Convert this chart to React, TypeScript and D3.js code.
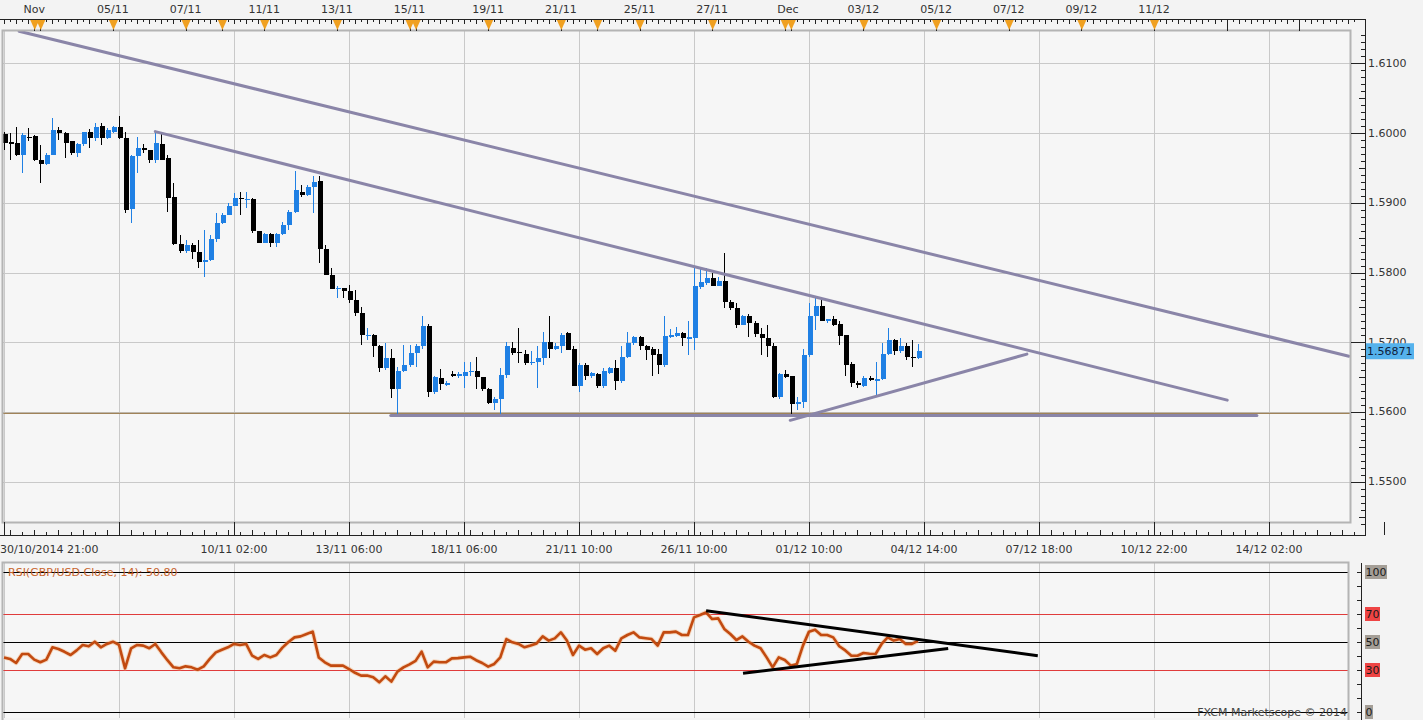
import React from 'react';
import * as d3 from 'd3';

// H4 candles, [open, high, low, close], one per bar from the left edge
const ohlc: [number, number, number, number][] = [
  [1.5998, 1.6001, 1.5976, 1.5986], [1.5987, 1.6000, 1.5962, 1.5986], [1.5986, 1.6009, 1.5967, 1.5969],
  [1.5969, 1.6000, 1.5942, 1.5997], [1.5995, 1.6007, 1.5988, 1.5994], [1.5996, 1.5997, 1.5960, 1.5961],
  [1.5962, 1.5983, 1.5928, 1.5956], [1.5956, 1.5971, 1.5954, 1.5969], [1.5969, 1.6021, 1.5968, 1.6005],
  [1.6005, 1.6009, 1.5990, 1.6000], [1.6000, 1.6001, 1.5964, 1.5986], [1.5988, 1.5989, 1.5969, 1.5972],
  [1.5972, 1.5985, 1.5966, 1.5984], [1.5984, 1.6002, 1.5981, 1.6001], [1.6001, 1.6006, 1.5978, 1.5993],
  [1.5993, 1.6014, 1.5988, 1.6009], [1.6010, 1.6014, 1.5983, 1.5993], [1.5993, 1.6007, 1.5991, 1.6004],
  [1.6002, 1.6010, 1.6000, 1.6008], [1.6008, 1.6024, 1.5991, 1.5993], [1.5993, 1.6002, 1.5886, 1.5890],
  [1.5891, 1.5969, 1.5871, 1.5967], [1.5967, 1.5995, 1.5943, 1.5979], [1.5979, 1.5984, 1.5972, 1.5975],
  [1.5976, 1.5976, 1.5957, 1.5962], [1.5962, 1.6002, 1.5957, 1.5985], [1.5984, 1.6000, 1.5961, 1.5962],
  [1.5964, 1.5969, 1.5887, 1.5907], [1.5908, 1.5928, 1.5840, 1.5841], [1.5841, 1.5854, 1.5828, 1.5831],
  [1.5831, 1.5847, 1.5828, 1.5839], [1.5839, 1.5842, 1.5820, 1.5829], [1.5829, 1.5847, 1.5806, 1.5815],
  [1.5815, 1.5861, 1.5793, 1.5818], [1.5818, 1.5854, 1.5816, 1.5848], [1.5848, 1.5885, 1.5844, 1.5871],
  [1.5871, 1.5885, 1.5870, 1.5883], [1.5883, 1.5899, 1.5882, 1.5896], [1.5896, 1.5914, 1.5895, 1.5907],
  [1.5907, 1.5916, 1.5883, 1.5905], [1.5905, 1.5915, 1.5892, 1.5906], [1.5906, 1.5907, 1.5856, 1.5859],
  [1.5859, 1.5859, 1.5842, 1.5843], [1.5843, 1.5856, 1.5842, 1.5855], [1.5855, 1.5857, 1.5837, 1.5843],
  [1.5843, 1.5856, 1.5837, 1.5855], [1.5855, 1.5873, 1.5854, 1.5868], [1.5868, 1.5889, 1.5861, 1.5887],
  [1.5887, 1.5945, 1.5885, 1.5918], [1.5916, 1.5926, 1.5908, 1.5911], [1.5911, 1.5926, 1.5909, 1.5922],
  [1.5922, 1.5939, 1.5885, 1.5930], [1.5931, 1.5939, 1.5814, 1.5833], [1.5833, 1.5840, 1.5796, 1.5797],
  [1.5797, 1.5806, 1.5776, 1.5777], [1.5777, 1.5781, 1.5763, 1.5778], [1.5778, 1.5778, 1.5764, 1.5774],
  [1.5774, 1.5782, 1.5756, 1.5761], [1.5761, 1.5775, 1.5737, 1.5742], [1.5742, 1.5751, 1.5696, 1.5710],
  [1.5710, 1.5720, 1.5703, 1.5711], [1.5711, 1.5712, 1.5679, 1.5694], [1.5694, 1.5696, 1.5658, 1.5663],
  [1.5663, 1.5699, 1.5660, 1.5678], [1.5678, 1.5691, 1.5620, 1.5633], [1.5633, 1.5665, 1.5596, 1.5659],
  [1.5659, 1.5696, 1.5658, 1.5668], [1.5668, 1.5696, 1.5665, 1.5684], [1.5684, 1.5697, 1.5665, 1.5695],
  [1.5694, 1.5737, 1.5691, 1.5723], [1.5723, 1.5726, 1.5622, 1.5629], [1.5629, 1.5652, 1.5626, 1.5650],
  [1.5648, 1.5661, 1.5632, 1.5640], [1.5640, 1.5644, 1.5637, 1.5641], [1.5654, 1.5659, 1.5650, 1.5653],
  [1.5653, 1.5658, 1.5648, 1.5654], [1.5652, 1.5672, 1.5635, 1.5658], [1.5658, 1.5672, 1.5652, 1.5659],
  [1.5659, 1.5679, 1.5633, 1.5650], [1.5650, 1.5650, 1.5630, 1.5633], [1.5633, 1.5634, 1.5612, 1.5613],
  [1.5613, 1.5622, 1.5603, 1.5619], [1.5619, 1.5663, 1.5596, 1.5653], [1.5653, 1.5701, 1.5648, 1.5694],
  [1.5692, 1.5701, 1.5682, 1.5685], [1.5686, 1.5721, 1.5670, 1.5685], [1.5683, 1.5689, 1.5667, 1.5670],
  [1.5670, 1.5687, 1.5667, 1.5672], [1.5671, 1.5694, 1.5634, 1.5677], [1.5677, 1.5714, 1.5667, 1.5701],
  [1.5701, 1.5738, 1.5677, 1.5690], [1.5690, 1.5699, 1.5689, 1.5694], [1.5694, 1.5713, 1.5684, 1.5711],
  [1.5713, 1.5715, 1.5689, 1.5689], [1.5690, 1.5694, 1.5637, 1.5637], [1.5637, 1.5670, 1.5629, 1.5668],
  [1.5668, 1.5670, 1.5646, 1.5652], [1.5652, 1.5658, 1.5648, 1.5656], [1.5655, 1.5656, 1.5634, 1.5637],
  [1.5637, 1.5663, 1.5635, 1.5659], [1.5656, 1.5665, 1.5655, 1.5663], [1.5663, 1.5674, 1.5632, 1.5644],
  [1.5644, 1.5694, 1.5641, 1.5679], [1.5679, 1.5715, 1.5677, 1.5699], [1.5699, 1.5709, 1.5696, 1.5707],
  [1.5707, 1.5709, 1.5689, 1.5694], [1.5694, 1.5696, 1.5675, 1.5689], [1.5690, 1.5693, 1.5652, 1.5682],
  [1.5683, 1.5690, 1.5655, 1.5667], [1.5667, 1.5737, 1.5665, 1.5709], [1.5709, 1.5719, 1.5706, 1.5710],
  [1.5709, 1.5722, 1.5707, 1.5713], [1.5713, 1.5715, 1.5694, 1.5706], [1.5706, 1.5730, 1.5682, 1.5707],
  [1.5706, 1.5806, 1.5689, 1.5780], [1.5779, 1.5806, 1.5777, 1.5786], [1.5785, 1.5806, 1.5782, 1.5792],
  [1.5792, 1.5799, 1.5780, 1.5780], [1.5780, 1.5794, 1.5780, 1.5788], [1.5788, 1.5828, 1.5749, 1.5757],
  [1.5758, 1.5761, 1.5746, 1.5749], [1.5749, 1.5756, 1.5720, 1.5725], [1.5725, 1.5739, 1.5725, 1.5738],
  [1.5738, 1.5741, 1.5708, 1.5727], [1.5727, 1.5730, 1.5708, 1.5712], [1.5712, 1.5720, 1.5682, 1.5706],
  [1.5706, 1.5725, 1.5679, 1.5694], [1.5695, 1.5699, 1.5620, 1.5622], [1.5622, 1.5656, 1.5618, 1.5655],
  [1.5655, 1.5660, 1.5648, 1.5650], [1.5651, 1.5652, 1.5593, 1.5612], [1.5612, 1.5622, 1.5603, 1.5615],
  [1.5614, 1.5691, 1.5605, 1.5682], [1.5682, 1.5756, 1.5679, 1.5738], [1.5738, 1.5763, 1.5718, 1.5752],
  [1.5752, 1.5761, 1.5730, 1.5730], [1.5730, 1.5734, 1.5728, 1.5733], [1.5733, 1.5737, 1.5723, 1.5725],
  [1.5726, 1.5730, 1.5696, 1.5709], [1.5710, 1.5710, 1.5651, 1.5667], [1.5669, 1.5671, 1.5636, 1.5641],
  [1.5641, 1.5645, 1.5635, 1.5640], [1.5637, 1.5651, 1.5636, 1.5648], [1.5649, 1.5652, 1.5644, 1.5646],
  [1.5646, 1.5671, 1.5624, 1.5647], [1.5647, 1.5699, 1.5646, 1.5683], [1.5683, 1.5720, 1.5682, 1.5703],
  [1.5703, 1.5704, 1.5682, 1.5687], [1.5687, 1.5706, 1.5684, 1.5695], [1.5695, 1.5699, 1.5675, 1.5679],
  [1.5679, 1.5703, 1.5664, 1.5678], [1.5677, 1.5698, 1.5676, 1.5687],
];

// RSI(14) per bar
const rsi = [
  39.0, 37.9, 35.0, 41.4, 41.4, 37.4, 35.5, 37.4, 46.2, 45.0, 43.0, 40.7, 44.0, 47.9, 46.9, 50.2,
  46.2, 48.6, 50.2, 47.9, 31.2, 45.5, 47.9, 47.4, 45.5, 48.6, 42.6, 37.0, 31.9, 31.2, 32.6, 31.9,
  30.2, 32.6, 37.9, 42.6, 44.5, 46.2, 48.6, 47.9, 48.6, 40.2, 37.9, 40.7, 39.0, 40.7, 46.0, 50.0,
  53.3, 54.0, 55.7, 57.4, 39.0, 35.5, 33.1, 33.1, 33.1, 30.7, 28.0, 26.0, 26.0, 24.8, 21.2, 25.5,
  21.7, 28.8, 31.9, 34.0, 36.5, 43.1, 31.9, 36.0, 35.5, 35.5, 38.3, 38.5, 39.0, 39.5, 37.0, 35.0,
  32.4, 34.3, 39.0, 52.1, 49.8, 48.6, 46.2, 47.5, 49.0, 54.0, 51.0, 52.6, 56.9, 51.0, 40.7, 47.4,
  44.5, 45.5, 41.4, 45.5, 47.4, 43.8, 52.6, 55.0, 56.9, 53.3, 52.7, 52.1, 47.4, 56.9, 56.9, 57.4,
  55.0, 55.0, 67.6, 69.3, 71.2, 66.4, 66.9, 59.3, 55.7, 51.4, 54.0, 50.2, 47.4, 45.5, 39.0, 31.9,
  39.0, 37.1, 33.1, 34.3, 47.4, 57.4, 58.8, 55.0, 55.0, 53.3, 47.0, 44.0, 40.2, 40.2, 42.1, 41.6,
  41.4, 48.6, 53.3, 51.0, 52.1, 48.6, 48.6, 50.8,
];

const priceTicks = [1.55, 1.56, 1.57, 1.58, 1.59, 1.60, 1.61];
const rsiLevels = [100, 70, 50, 30, 0];
const rsiLevelColors = ['#000', '#e03c3c', '#000', '#e03c3c', '#000'];
const rsiLabelFills = ['#a49e96', '#ee4444', '#a49e96', '#ee4444', '#a49e96'];

const topMarkerBars = [5, 6, 18, 30, 36, 43, 55, 67, 68, 80, 92, 98, 105, 117, 129, 130, 142, 154, 166, 178, 190];
const topLabels = ['Nov', '05/11', '07/11', '11/11', '13/11', '15/11', '19/11', '21/11', '25/11', '27/11', 'Dec', '03/12', '05/12', '07/12', '09/12', '11/12'];
const topLabelBars = [5, 18, 30, 43, 55, 67, 80, 92, 105, 117, 129.5, 142, 154, 166, 178, 190];
const firstBarLabel = '30/10/2014 21:00';
const bottomLabels = ['10/11 02:00', '13/11 06:00', '18/11 06:00', '21/11 10:00', '26/11 10:00', '01/12 10:00', '04/12 14:00', '07/12 18:00', '10/12 22:00', '14/12 02:00'];
const bottomLabelBars = [38, 57, 76, 95, 114, 133, 152, 171, 190, 209];

// drawn lines: [bar, price] pairs
const priceLines: [number, number][][] = [
  [[2.5, 1.6146], [222.2, 1.5680]],
  [[25.0, 1.6002], [202.1, 1.5617]],
  [[63.9, 1.5595], [207.0, 1.5595]],
  [[129.9, 1.5588], [169.0, 1.5683]],
];
const supportPrice = 1.5598;
const rsiLines: [number, number][][] = [
  [[116.0, 72.4], [170.8, 40.2]],
  [[122.1, 27.6], [156.0, 45.4]],
];
const lastPrice = 1.56871;
const rsiTitle = 'RSI(GBP/USD.Close, 14): 50.80';

const FONT = '"DejaVu Sans", Verdana, sans-serif';
const BLUE = '#1f80e4';

export default function App() {
  const W = 1423, H = 720;
  const plot = { l: 3, r: 1350, t: 31, b: 522 };
  const rp = { l: 3, r: 1348, t: 563, b: 718 };
  const axisX = 1365;

  const x = d3.scaleLinear().domain([0, 19]).range([4, 119]);
  const yP = d3.scaleLinear().domain([1.55, 1.61]).range([481.7, 63.3]);
  const yR = d3.scaleLinear().domain([0, 100]).range([712, 572]);

  const gridBars = d3.range(0, 222, 19);
  const minorPrice = d3.range(1544, 1615).map(v => v / 1000);

  const rsiPath = d3.line<number>().x((_, i) => x(i)).y(d => yR(d))(rsi) || '';

  const fmt = d3.format('.4f');

  return (
    <div style={{ position: 'absolute', left: 0, top: 0 }}>
      <svg width={W} height={H} style={{ display: 'block', background: '#f3f3f3' }} fontFamily={FONT}>
        <defs>
          <clipPath id="mainClip"><rect x={plot.l} y={plot.t} width={plot.r - plot.l} height={plot.b - plot.t} /></clipPath>
          <clipPath id="rsiClip"><rect x={rp.l} y={rp.t} width={rp.r - rp.l} height={rp.b - rp.t} /></clipPath>
        </defs>

        {/* ---------- price panel ---------- */}
        <rect x={plot.l} y={plot.t} width={plot.r - plot.l} height={plot.b - plot.t} fill="#f6f6f6" />
        <g clipPath="url(#mainClip)" shapeRendering="crispEdges">
          {gridBars.map(b => (
            <line key={'gv' + b} x1={Math.round(x(b)) + 0.5} x2={Math.round(x(b)) + 0.5} y1={plot.t} y2={plot.b} stroke="#c9c9c9" />
          ))}
          {priceTicks.map(p => (
            <line key={'gh' + p} x1={plot.l} x2={plot.r} y1={Math.round(yP(p)) + 0.5} y2={Math.round(yP(p)) + 0.5} stroke="#c9c9c9" />
          ))}
        </g>
        <g clipPath="url(#mainClip)">
          <line x1={plot.l} x2={plot.r} y1={yP(supportPrice)} y2={yP(supportPrice)} stroke="#a08358" strokeWidth={1.2} />
          {ohlc.map(([o, h, l, c], i) => {
            const cx = Math.round(x(i));
            const col = c >= o ? BLUE : '#000';
            const top = yP(Math.max(o, c));
            const bh = Math.max(1.5, yP(Math.min(o, c)) - top);
            return (
              <g key={'c' + i} shapeRendering="crispEdges">
                <line x1={cx + 0.5} x2={cx + 0.5} y1={yP(h)} y2={yP(l)} stroke={col} />
                <rect x={cx - 1.5} y={top} width={5} height={bh} fill={col} />
              </g>
            );
          })}
          {priceLines.map((ln, i) => (
            <line key={'tl' + i} x1={x(ln[0][0])} y1={yP(ln[0][1])} x2={x(ln[1][0])} y2={yP(ln[1][1])}
              stroke="#8a85a8" strokeWidth={3} strokeLinecap="round" />
          ))}
        </g>
        <rect x={plot.l - 0.5} y={plot.t - 0.5} width={plot.r - plot.l + 1} height={plot.b - plot.t + 1} fill="none" stroke="#b4b4b4" strokeWidth={2} />

        {/* top time axis */}
        <g shapeRendering="crispEdges">
          <line x1={0} x2={axisX} y1={19.5} y2={19.5} stroke="#222" />
          {d3.range(-1, 224).map(b => (
            <line key={'tt' + b} x1={Math.round(x(b)) + 0.5} x2={Math.round(x(b)) + 0.5} y1={19} y2={b % 2 === 0 ? 24 : 22} stroke="#222" />
          ))}
          {topMarkerBars.concat([202, 214]).map(b => (
            <line key={'tm' + b} x1={Math.round(x(b)) + 0.5} x2={Math.round(x(b)) + 0.5} y1={19} y2={plot.t} stroke="#222" />
          ))}
        </g>
        {topMarkerBars.map(b => {
          const cx = x(b) + 0.5;
          return <path key={'tri' + b} d={`M${cx - 4.5},20 L${cx + 4.5},20 L${cx},30 Z`} fill="#f0a020" />;
        })}
        {topLabels.map((t, i) => (
          <text key={'tl' + t} x={x(topLabelBars[i])} y={9} textAnchor="middle" dominantBaseline="central" fontSize={11} fill="#333">{t}</text>
        ))}

        {/* right price axis */}
        <g shapeRendering="crispEdges">
          <line x1={axisX + 0.5} x2={axisX + 0.5} y1={19} y2={536} stroke="#222" />
          {minorPrice.map(p => {
            const y = Math.round(yP(p)) + 0.5;
            const k = Math.round(p * 1000);
            const len = k % 10 === 0 ? 14 : k % 5 === 0 ? 6 : 4;
            return <line key={'pt' + k} x1={axisX - len} x2={axisX} y1={y} y2={y} stroke="#222" />;
          })}
        </g>
        {priceTicks.map(p => (
          <text key={'pl' + p} x={axisX + 3} y={yP(p)} dominantBaseline="central" fontSize={11} fill="#333">{fmt(p)}</text>
        ))}
        <rect x={axisX + 1} y={yP(lastPrice) - 8} width={48} height={16} fill="#55b2ec" />
        <text x={axisX + 2} y={yP(lastPrice)} dominantBaseline="central" fontSize={11} fill="#10203a">{lastPrice.toFixed(5)}</text>

        {/* bottom time axis */}
        <g shapeRendering="crispEdges">
          <line x1={0} x2={axisX} y1={535.5} y2={535.5} stroke="#222" />
          {d3.range(-1, 224, 2).map(b => (
            <line key={'bt' + b} x1={Math.round(x(b)) + 0.5} x2={Math.round(x(b)) + 0.5} y1={535} y2={b % 4 === 1 ? 530 : 532} stroke="#222" />
          ))}
          {gridBars.concat([228]).map(b => (
            <line key={'bm' + b} x1={Math.round(x(b)) + 0.5} x2={Math.round(x(b)) + 0.5} y1={plot.b} y2={535} stroke="#222" />
          ))}
        </g>
        <text x={0} y={549} dominantBaseline="central" fontSize={11} fill="#333">{firstBarLabel}</text>
        {bottomLabels.map((t, i) => (
          <text key={'bl' + t} x={x(bottomLabelBars[i])} y={549} textAnchor="middle" dominantBaseline="central" fontSize={11} fill="#333">{t}</text>
        ))}

        {/* ---------- RSI panel ---------- */}
        <rect x={rp.l} y={rp.t} width={rp.r - rp.l} height={rp.b - rp.t} fill="#f6f6f6" />
        <g clipPath="url(#rsiClip)" shapeRendering="crispEdges">
          {gridBars.map(b => (
            <line key={'rv' + b} x1={Math.round(x(b)) + 0.5} x2={Math.round(x(b)) + 0.5} y1={rp.t} y2={rp.b} stroke="#c9c9c9" />
          ))}
          {rsiLevels.map((lv, i) => (
            <line key={'rl' + lv} x1={rp.l} x2={rp.r} y1={Math.round(yR(lv)) + 0.5} y2={Math.round(yR(lv)) + 0.5} stroke={rsiLevelColors[i]} />
          ))}
        </g>
        <text x={8} y={572} dominantBaseline="central" fontSize={11} fill="#c8642c">{rsiTitle}</text>
        <g clipPath="url(#rsiClip)">
          <path d={rsiPath} fill="none" stroke="#f5b27a" strokeWidth={4.5} strokeLinejoin="round" opacity={0.45} />
          <path d={rsiPath} fill="none" stroke="#c24a10" strokeWidth={2.6} strokeLinejoin="round" />
          {rsiLines.map((ln, i) => (
            <line key={'rt' + i} x1={x(ln[0][0])} y1={yR(ln[0][1])} x2={x(ln[1][0])} y2={yR(ln[1][1])} stroke="#000" strokeWidth={3} />
          ))}
        </g>
        <rect x={rp.l - 0.5} y={rp.t - 0.5} width={rp.r - rp.l + 1} height={rp.b - rp.t + 4} fill="none" stroke="#b4b4b4" strokeWidth={2} />
        <text x={1347} y={712} textAnchor="end" dominantBaseline="central" fontSize={11} fill="#444">FXCM Marketscope © 2014</text>

        {/* RSI right axis */}
        <g shapeRendering="crispEdges">
          <line x1={1361.5} x2={1361.5} y1={rp.t} y2={H} stroke="#222" />
          {d3.range(0, 101, 10).map(v => (
            <line key={'rtk' + v} x1={1357} x2={1361} y1={Math.round(yR(v)) + 0.5} y2={Math.round(yR(v)) + 0.5} stroke="#222" />
          ))}
        </g>
        {rsiLevels.map((lv, i) => {
          const w = String(lv).length * 7 + 1;
          return (
            <g key={'rlab' + lv}>
              <rect x={1365} y={yR(lv) - 7} width={w} height={14} fill={rsiLabelFills[i]} />
              <text x={1365.5} y={yR(lv)} dominantBaseline="central" fontSize={11} fill="#1a1a1a">{lv}</text>
            </g>
          );
        })}
      </svg>
    </div>
  );
}
